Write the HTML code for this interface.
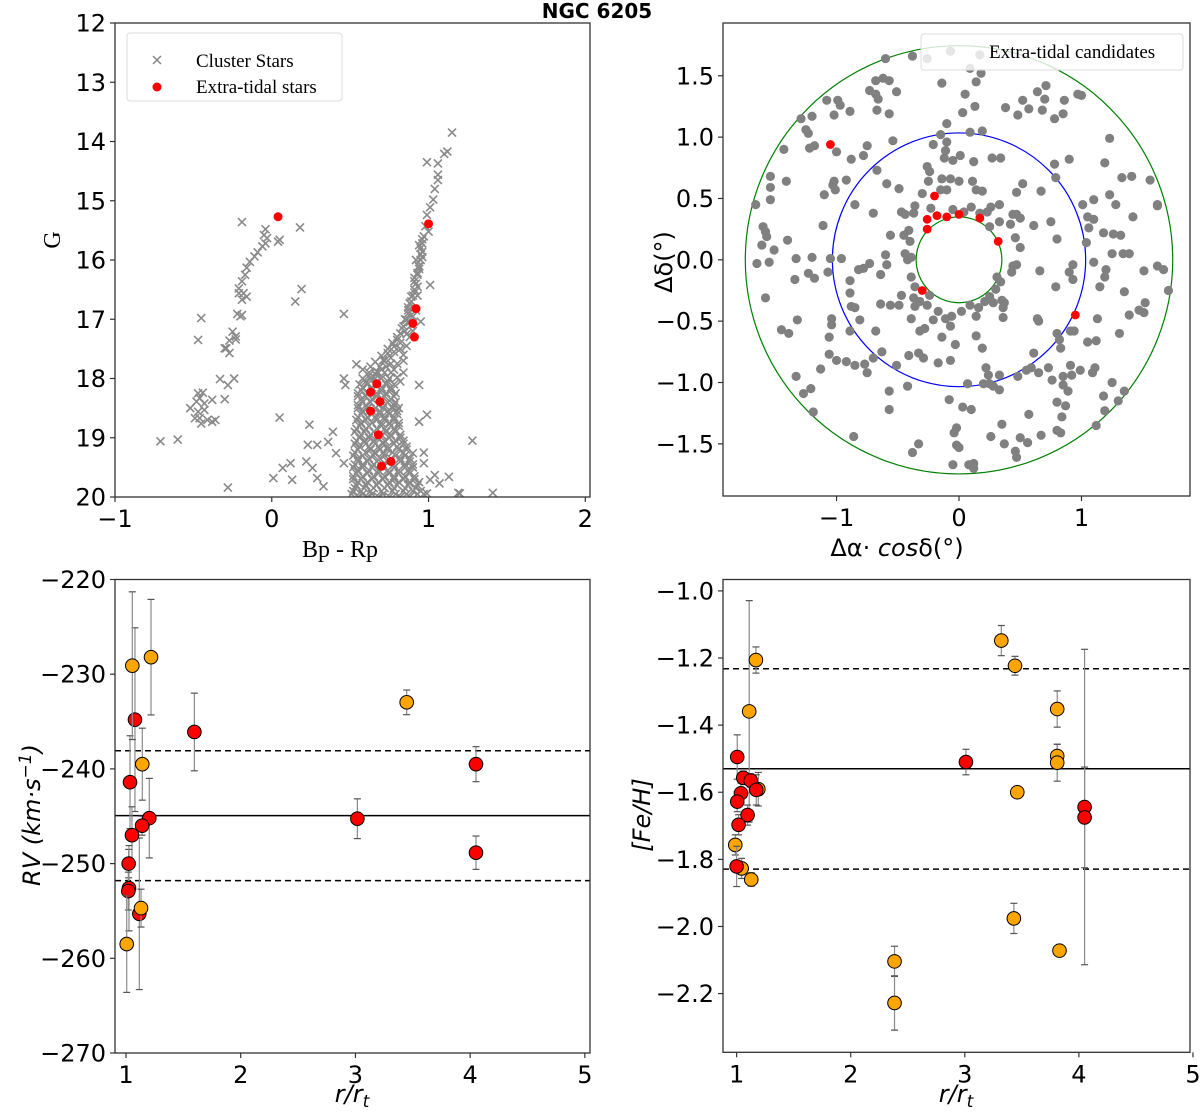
<!DOCTYPE html>
<html><head><meta charset="utf-8">
<style>
html,body{margin:0;padding:0;background:#fff;}
svg text{font-family:"DejaVu Sans","Liberation Sans",sans-serif;}
.serif{font-family:"Liberation Serif",serif !important;}
</style></head>
<body>
<svg id="fig" xmlns="http://www.w3.org/2000/svg" width="1200" height="1114" viewBox="0 0 1200 1114">
<rect width="1200" height="1114" fill="#fff"/>
<text x="597" y="18" font-size="20" font-weight="bold" text-anchor="middle">NGC 6205</text>
</svg>
<script>
// ---------- DATA ----------
const cmdXTicks = [-1, 0, 1, 2];
const cmdYTicks = [12, 13, 14, 15, 16, 17, 18, 19, 20];
const clusterStars = [
[-0.19,15.36],[-0.04,15.48],[-0.05,15.58],[-0.03,15.63],[-0.04,15.72],[-0.06,15.77],[-0.09,15.87],[-0.11,15.94],[-0.14,16.03],[-0.16,16.13],[-0.17,16.25],[-0.19,16.36],[-0.21,16.48],[-0.21,16.56],[-0.16,16.62],[-0.18,16.56],[-0.19,16.67],
[0.04,15.69],[0.05,15.66],[0.18,15.45],[0.19,16.49],[0.15,16.70],[-0.22,16.91],[-0.20,16.95],[-0.19,16.93],[-0.45,16.98],[-0.47,17.35],
[-0.25,17.21],[-0.23,17.29],[-0.23,17.34],[-0.27,17.36],[-0.29,17.49],[-0.27,17.57],[-0.30,17.49],[-0.33,18.01],[-0.24,18.00],[-0.28,18.11],[-0.30,18.35],
[-0.47,18.25],[-0.44,18.24],[-0.46,18.33],[-0.48,18.39],[-0.43,18.42],[-0.38,18.36],[-0.52,18.50],[-0.47,18.56],[-0.43,18.53],[-0.46,18.67],[-0.41,18.70],[-0.49,18.67],[-0.45,18.76],[-0.38,18.73],[-0.36,18.70],
[-0.71,19.06],[-0.60,19.03],[-0.28,19.84],[0.05,18.66],[0.24,18.78],[0.46,16.91],[0.54,17.76],
[0.01,19.68],[0.07,19.51],[0.12,19.43],[0.13,19.71],[0.23,19.12],[0.29,19.12],[0.22,19.40],[0.26,19.51],[0.29,19.68],[0.33,19.82],[0.36,19.07],[0.39,18.90],[0.41,19.26],[0.46,19.43],[0.46,18.00],[0.47,18.11],
[1.15,13.85],[1.12,14.17],[1.10,14.21],[1.06,14.37],[0.99,14.35],[1.06,14.56],[1.06,14.65],[1.04,14.80],[1.03,14.98],[1.01,15.11],[0.99,15.24],[0.98,15.43],[1.00,15.52],[0.96,15.72],[0.96,15.86],[0.95,16.00],[0.94,16.11],[0.93,16.22],[0.91,16.36],[1.01,16.42],[0.91,16.50],[0.89,16.62],[0.88,16.73],[0.95,17.04],[0.87,16.90],[0.86,17.01],[0.84,17.12],[0.82,17.24],[0.80,17.35],[0.78,17.46],[0.74,17.57],[0.71,17.69],[0.69,17.80],[0.67,17.88],[0.80,17.98],[0.94,18.11],[0.81,18.50],[0.94,18.73],[0.99,18.61],[1.28,19.05],[1.13,19.66],[1.19,19.93],[1.41,19.93],[1.04,19.63],[0.97,19.25],[0.90,19.26],[0.88,19.77],[0.97,19.43],[1.01,19.71],[1.07,19.77],[0.99,19.94],[1.20,19.94],
[0.80,17.75],[0.84,17.60],[0.76,17.65],[0.86,17.45],[0.82,17.50],[0.88,17.30],[0.85,17.20],[0.89,17.10],[0.90,16.95],[0.87,16.80],[0.92,16.85],[0.90,16.60],[0.93,16.45],[0.91,16.30],[0.94,16.15],[0.92,16.00],[0.95,15.90],[0.94,15.75],[0.97,15.60],[0.96,15.95],[0.93,16.60],[0.73,17.80],[0.70,17.85],[0.78,17.85],[0.66,17.92],
[0.62,17.9],[0.68,17.9],[0.72,17.9],[0.76,17.9],[0.58,18.0],[0.63,18.0],[0.70,18.0],[0.75,18.0],
[0.56,18.1],[0.61,18.1],[0.66,18.1],[0.73,18.1],[0.78,18.1],[0.57,18.2],[0.64,18.2],[0.70,18.2],[0.76,18.2],
[0.55,18.3],[0.60,18.3],[0.67,18.3],[0.72,18.3],[0.78,18.3],[0.58,18.4],[0.63,18.4],[0.74,18.4],[0.79,18.4],
[0.55,18.5],[0.61,18.5],[0.66,18.5],[0.71,18.5],[0.77,18.5],[0.57,18.6],[0.64,18.6],[0.69,18.6],[0.75,18.6],[0.80,18.6],
[0.54,18.7],[0.60,18.7],[0.67,18.7],[0.72,18.7],[0.78,18.7],[0.56,18.8],[0.62,18.8],[0.70,18.8],[0.76,18.8],[0.81,18.8],
[0.53,18.9],[0.59,18.9],[0.65,18.9],[0.73,18.9],[0.79,18.9],[0.56,19.0],[0.62,19.0],[0.68,19.0],[0.75,19.0],[0.82,19.0],
[0.53,19.1],[0.60,19.1],[0.66,19.1],[0.71,19.1],[0.78,19.1],[0.84,19.1],[0.55,19.2],[0.63,19.2],[0.69,19.2],[0.74,19.2],[0.81,19.2],[0.86,19.2],
[0.52,19.3],[0.58,19.3],[0.65,19.3],[0.72,19.3],[0.79,19.3],[0.85,19.3],[0.55,19.4],[0.61,19.4],[0.67,19.4],[0.74,19.4],[0.82,19.4],[0.88,19.4],
[0.52,19.5],[0.58,19.5],[0.64,19.5],[0.71,19.5],[0.78,19.5],[0.85,19.5],[0.90,19.5],[0.54,19.6],[0.61,19.6],[0.68,19.6],[0.75,19.6],[0.81,19.6],[0.88,19.6],
[0.52,19.7],[0.57,19.7],[0.64,19.7],[0.71,19.7],[0.78,19.7],[0.84,19.7],[0.91,19.7],[0.54,19.8],[0.60,19.8],[0.67,19.8],[0.74,19.8],[0.80,19.8],[0.87,19.8],[0.93,19.8],
[0.52,19.9],[0.57,19.9],[0.63,19.9],[0.70,19.9],[0.77,19.9],[0.84,19.9],[0.90,19.9],[0.95,19.9],[0.55,20.0],[0.61,20.0],[0.68,20.0],[0.75,20.0],[0.82,20.0],[0.88,20.0]
];
const clusterStarsCore = [
[0.60,18.05],[0.67,18.05],[0.74,18.05],[0.58,18.15],[0.64,18.15],[0.70,18.15],[0.76,18.15],
[0.55,18.25],[0.61,18.25],[0.67,18.25],[0.73,18.25],[0.79,18.25],[0.57,18.35],[0.64,18.35],[0.70,18.35],[0.76,18.35],
[0.55,18.45],[0.60,18.45],[0.68,18.45],[0.72,18.45],[0.78,18.45],[0.58,18.55],[0.64,18.55],[0.69,18.55],[0.74,18.55],[0.80,18.55],
[0.55,18.65],[0.61,18.65],[0.66,18.65],[0.72,18.65],[0.78,18.65],[0.57,18.75],[0.64,18.75],[0.70,18.75],[0.75,18.75],[0.81,18.75],
[0.54,18.85],[0.60,18.85],[0.67,18.85],[0.72,18.85],[0.78,18.85],[0.57,18.95],[0.63,18.95],[0.70,18.95],[0.76,18.95],[0.82,18.95],
[0.54,19.05],[0.59,19.05],[0.65,19.05],[0.72,19.05],[0.79,19.05],[0.84,19.05],[0.56,19.15],[0.62,19.15],[0.68,19.15],[0.74,19.15],[0.80,19.15],[0.86,19.15],
[0.53,19.25],[0.60,19.25],[0.66,19.25],[0.71,19.25],[0.77,19.25],[0.84,19.25],[0.55,19.35],[0.62,19.35],[0.69,19.35],[0.76,19.35],[0.82,19.35],[0.88,19.35],
[0.53,19.45],[0.58,19.45],[0.65,19.45],[0.71,19.45],[0.78,19.45],[0.85,19.45],[0.90,19.45],[0.55,19.55],[0.62,19.55],[0.68,19.55],[0.74,19.55],[0.81,19.55],[0.87,19.55],
[0.52,19.65],[0.58,19.65],[0.65,19.65],[0.72,19.65],[0.78,19.65],[0.85,19.65],[0.91,19.65],[0.55,19.75],[0.61,19.75],[0.68,19.75],[0.75,19.75],[0.81,19.75],[0.88,19.75],[0.94,19.75],
[0.53,19.85],[0.59,19.85],[0.65,19.85],[0.72,19.85],[0.78,19.85],[0.85,19.85],[0.92,19.85],[0.51,19.95],[0.58,19.95],[0.64,19.95],[0.71,19.95],[0.79,19.95],[0.86,19.95],[0.93,19.95],[0.97,19.95],
[0.58,17.85],[0.63,17.80],[0.66,17.72],[0.70,17.62],[0.74,17.50],[0.77,17.40],[0.80,17.30],[0.83,17.15],[0.85,17.00],[0.87,16.85],[0.89,16.70],[0.91,16.55],[0.92,16.40],[0.93,16.25],[0.94,16.10],[0.95,15.80],[0.96,15.65],
[0.78,17.55],[0.82,17.40],[0.86,17.25],[0.88,17.05],[0.72,17.70],[0.76,17.75],[0.84,17.70],[0.90,17.20],[0.62,17.95],[0.66,18.00],[0.82,18.05],[0.84,17.90]
];
const cmdExtraTidal = [[0.04,15.27],[1.00,15.39],[0.92,16.82],[0.90,17.07],[0.91,17.30],[0.67,18.09],[0.63,18.23],[0.69,18.39],[0.63,18.55],[0.68,18.95],[0.76,19.40],[0.70,19.48]];

const skyXTicks = [-1, 0, 1];
const skyYTicks = [-1.5, -1.0, -0.5, 0.0, 0.5, 1.0, 1.5];
const ringRadii = [0.35, 1.034, 1.745];
const ringColors = ['green', 'blue', 'green'];
const candidates = [
[-0.60,1.64],[-0.38,1.66],[-0.26,1.64],[-0.07,1.70],[0.17,1.67],[0.09,1.56],[0.18,1.52],[0.14,1.45],[-0.14,1.44],[-0.68,1.46],[-0.62,1.48],[-0.57,1.46],[-0.73,1.38],[-0.68,1.35],[-0.66,1.31],[-0.51,1.37],[-1.08,1.30],[-0.99,1.30],[-0.97,1.26],[-1.02,1.18],[-0.89,1.21],[-0.67,1.22],[-0.57,1.19],[-1.29,1.15],[-1.20,1.17],[-1.25,1.06],[-1.23,1.03],[-1.22,0.91],[-1.18,0.93],[-1.43,0.90],[-1.00,0.88],[-0.88,0.82],[-0.78,0.85],[-0.75,0.93],[-0.54,0.97],[-0.10,1.11],[0.05,1.35],[0.03,1.20],[0.13,1.25],[0.09,1.04],[0.19,1.05],[-0.15,1.02],[-0.10,0.96],[-0.21,0.94],[-0.11,0.89],[-0.12,0.83],[-0.05,0.81],[0.01,0.85],[0.12,0.80],[0.27,0.83],[0.34,0.83],[0.38,1.24],
[0.48,1.18],[0.52,1.30],[0.57,1.23],[0.64,1.37],[0.71,1.42],[0.70,1.31],[0.68,1.22],[0.78,1.15],[0.85,1.19],[0.86,1.30],[0.97,1.35],[1.00,1.34],[1.23,0.99],[0.78,0.78],[0.90,0.82],[1.19,0.79],[0.79,0.67],[1.33,0.67],[1.41,0.68],[1.56,0.65],[1.23,0.53],[1.28,0.45],[1.10,0.49],[1.01,0.45],[0.67,0.56],[0.52,0.62],[0.47,0.55],
[1.05,0.35],[1.10,0.33],[1.06,0.26],[1.04,0.14],[1.42,0.35],[1.62,0.44],[1.62,0.45],[1.18,0.22],[1.26,0.21],[1.32,0.20],[1.25,0.05],[1.34,0.05],[1.39,0.05],[1.10,-0.02],[0.75,0.31],[0.80,0.17],[0.61,0.28],[0.47,0.37],[0.50,0.34],[0.44,0.37],[0.42,0.29],[0.46,0.18],[0.50,0.10],
[0.33,0.45],[0.26,0.43],[0.23,0.39],[0.17,0.38],[0.10,0.43],[0.04,0.39],[-0.05,0.41],[0.25,0.27],[0.33,0.31],[0,0.64],[-0.07,0.66],[-0.14,0.66],[-0.10,0.57],[0.11,0.64],[0.14,0.57],[0.19,0.56],[-0.24,0.72],[-0.26,0.76],[-0.25,0.64],[-0.30,0.54],[-0.15,0.57],[-0.23,0.42],[-0.36,0.44],[-0.37,0.38],[-0.44,0.37],[-0.47,0.39],
[-0.45,0.20],[-0.41,0.24],[-0.40,0.15],[-0.44,0.05],[-0.39,0.02],[-0.42,0.0],[-0.56,0.20],[-0.70,0.38],[-0.85,0.45],[-0.59,0.62],[-0.49,0.58],[-0.67,0.73],[-0.92,0.65],[-1.02,0.64],[-1.03,0.61],[-1.01,0.57],[-1.10,0.53],[-1.41,0.64],[-1.54,0.68],[-1.54,0.59],[-1.54,0.49],[-1.66,0.45],[-1.60,0.27],[-1.58,0.23],[-1.57,0.19],[-1.61,0.12],[-1.51,0.08],[-1.40,0.16],[-1.11,0.28],
[-1.65,-0.03],[-1.55,-0.02],[-1.33,0.01],[-1.20,0.02],[-1.05,0.01],[-0.96,0.01],[-1.07,-0.10],[-1.23,-0.11],[-1.18,-0.15],[-1.34,-0.16],[-1.58,-0.31],[-1.32,-0.49],[-1.45,-0.57],[-1.39,-0.60],[-1.04,-0.48],[-1.04,-0.53],[-1.06,-0.63],[-0.89,-0.58],[-0.81,-0.49],
[-0.89,-0.27],[-0.88,-0.38],[-0.85,-0.39],[-0.89,-0.17],[-0.82,-0.08],[-0.78,-0.07],[-0.73,-0.03],[-0.60,0.04],[-0.59,-0.04],[-0.64,-0.12],[-0.64,-0.36],[-0.56,-0.37],[-0.49,-0.37],[-0.47,-0.29],[-0.68,-0.58],
[-0.39,-0.14],[-0.36,-0.22],[-0.37,-0.31],[-0.36,-0.38],[-0.32,-0.34],[-0.26,-0.37],[-0.24,-0.29],[-0.39,-0.48],[-0.32,-0.58],[-0.28,-0.56],[-0.21,-0.49],[-0.17,-0.42],[-0.11,-0.48],[-0.07,-0.54],[-0.06,-0.46],[0.02,-0.42],
[0.09,-0.37],[0.16,-0.39],[0.21,-0.34],[0.25,-0.30],[0.30,-0.24],[0.34,-0.18],[0.31,-0.14],[0.28,-0.35],[0.35,-0.33],[0.36,-0.39],[0.37,-0.35],[0.14,-0.46],[0.36,-0.47],[0.44,-0.05],[0.43,-0.10],[0.47,-0.04],[0.66,-0.09],[0.79,-0.22],[0.90,-0.10],[0.93,-0.16],[0.93,-0.04],[0.64,-0.48],[0.65,-0.50],
[0.91,-0.58],[0.94,-0.58],[0.80,-0.60],[0.82,-0.65],[1.13,-0.48],[1.15,-0.22],[1.19,-0.14],[1.20,-0.08],[1.35,-0.26],[1.31,-0.60],[1.39,-0.45],[1.47,-0.41],[1.52,-0.35],[1.51,-0.43],[1.71,-0.25],[1.51,-0.09],[1.62,-0.05],[1.67,-0.08],[1.05,-0.67],[1.12,-0.66],[0.83,-0.72],
[0.61,-0.76],[0.59,-0.88],[0.55,-0.90],[0.48,-0.95],[0.65,-0.92],[0.73,-0.88],[0.76,-0.98],[0.85,-0.95],[0.91,-0.86],[0.92,-0.94],[0.99,-0.90],[1.09,-0.92],[1.11,-0.88],
[0.85,-1.02],[0.89,-1.07],[0.80,-1.16],[0.87,-1.19],[0.84,-1.28],[0.80,-1.39],[0.83,-1.41],[0.67,-1.43],[1.25,-1.00],[1.18,-1.11],[1.35,-1.07],[1.30,-1.15],[1.19,-1.23],[1.12,-1.35],
[0.57,-1.26],[0.50,-1.45],[0.56,-1.49],[0.46,-1.56],[0.47,-1.61],[0.26,-1.44],[0.37,-1.50],[0.35,-1.34],[0.22,-0.88],[0.24,-0.94],[0.25,-1.01],[0.33,-0.94],[0.33,-1.06],[0.28,-1.03],[0.20,-1.01],
[0.07,-1.01],[0.03,-1.20],[0.10,-1.22],[0.14,-0.62],[0.19,-0.72],[-0.03,-0.69],[-0.14,-0.63],[-0.07,-0.82],[-0.17,-0.84],[-0.08,-1.14],
[-0.02,-1.37],[-0.04,-1.41],[-0.02,-1.51],[0,-1.53],[-0.05,-1.67],[0.08,-1.67],[0.12,-1.66],[0.12,-1.70],[-0.38,-1.57],[-0.33,-1.50],[-0.86,-1.44],[-0.57,-1.22],[-0.57,-1.07],[-0.42,-1.03],
[-0.41,-0.78],[-0.33,-0.76],[-0.29,-0.80],[-0.51,-0.86],[-0.63,-0.75],[-0.70,-0.80],[-0.77,-0.85],[-0.75,-0.92],[-0.85,-0.86],[-0.92,-0.83],[-1.00,-0.82],[-1.13,-0.89],[-1.06,-0.77],[-1.33,-0.95],[-1.27,-1.09],[-1.21,-1.05],[-1.19,-1.24]
];
const skyExtraTidal = [[-1.05,0.94],[-0.20,0.52],[-0.26,0.33],[-0.26,0.25],[-0.18,0.36],[-0.10,0.35],[0,0.37],[0.17,0.34],[0.32,0.15],[-0.30,-0.25],[0.95,-0.45]];

const rXTicks = [1, 2, 3, 4, 5];
const rvYTicks = [-220, -230, -240, -250, -260, -270];
const rvRedR = [1.078, 1.035, 1.203, 1.14, 1.052, 1.023, 1.026, 1.02, 1.116, 1.596, 3.017, 4.051, 4.051];
const rvRedV = [-234.8, -241.4, -245.2, -246.0, -247.0, -250.0, -252.6, -252.9, -255.3, -236.1, -245.26, -239.5, -248.85];
const rvRedErr = [9.7, 4.9, 4.2, 1, 3, 1.5, 4.5, 2, 8, 4.1, 2.1, 1.85, 1.76];
const rvOrangeR = [1.055, 1.218, 1.142, 1.131, 1.006, 3.447];
const rvOrangeV = [-229.1, -228.2, -239.5, -254.7, -258.5, -232.97];
const rvOrangeErr = [7.8, 6.1, 3.8, 2, 5.1, 1.3];
const rvMean = -244.94, rvLow = -251.8, rvHigh = -238.08;

const feYTicks = [-1.0, -1.2, -1.4, -1.6, -1.8, -2.0, -2.2];
const feRedR = [1.005, 1.058, 1.123, 1.172, 1.038, 1.005, 1.096, 1.017, 1.0, 3.01, 4.05, 4.05];
const feRedV = [-1.495, -1.557, -1.565, -1.593, -1.603, -1.628, -1.668, -1.697, -1.821, -1.510, -1.644, -1.675];
const feRedErr = [0.066, 0.02, 0.02, 0.045, 0.03, 0.03, 0.03, 0.03, 0.06, 0.038, 0.47, 0.15];
const feOrangeR = [1.169, 1.110, 1.19, 0.988, 1.044, 1.128, 3.32, 3.44, 3.81, 3.81, 3.81, 3.46, 3.43, 3.83, 2.384, 2.384];
const feOrangeV = [-1.206, -1.359, -1.591, -1.757, -1.827, -1.86, -1.148, -1.223, -1.352, -1.492, -1.512, -1.600, -1.976, -2.072, -2.104, -2.228];
const feOrangeErr = [0.039, 0.33, 0.05, 0.03, 0.03, 0.02, 0.045, 0.028, 0.054, 0.035, 0.055, 0.01, 0.045, 0, 0.045, 0.081];
const feMean = -1.530, feLow = -1.829, feHigh = -1.232;

// ---------- RENDER ----------
const NS = 'http://www.w3.org/2000/svg';
const svg = document.getElementById('fig');
function mk(tag, attrs, parent) {
  const e = document.createElementNS(NS, tag);
  for (const k in attrs) e.setAttribute(k, attrs[k]);
  (parent || svg).appendChild(e);
  return e;
}
function scale(d0, d1, p0, p1) { return v => p0 + (v - d0) * (p1 - p0) / (d1 - d0); }

function makeAxes(name, box, xd, yd, xticks, yticks, xfmt, yfmt) {
  const g = mk('g', {});
  
  
  const sx = scale(xd[0], xd[1], box.x0, box.x1);
  const sy = scale(yd[0], yd[1], box.y1, box.y0);
  const clipId = 'clip-' + name;
  const cp = mk('clipPath', { id: clipId }, g);
  mk('rect', { x: box.x0, y: box.y0, width: box.x1 - box.x0, height: box.y1 - box.y0 }, cp);
  const plot = mk('g', { 'clip-path': 'url(#' + clipId + ')' }, g);
  
  
  const xa = mk('g', {}, g);
  
  
  xticks.forEach(t => {
    const x = sx(t);
    mk('line', { x1: x, x2: x, y1: box.y1, y2: box.y1 + 5, stroke: '#333', 'stroke-width': 1.2 }, xa);
    const tx = mk('text', { x: x, y: box.y1 + 30, 'font-size': 24, 'text-anchor': 'middle' }, xa);
    
    
    tx.textContent = xfmt(t);
  });
  const ya = mk('g', {}, g);
  
  
  yticks.forEach(t => {
    const y = sy(t);
    mk('line', { x1: box.x0 - 5, x2: box.x0, y1: y, y2: y, stroke: '#333', 'stroke-width': 1.2 }, ya);
    const tx = mk('text', { x: box.x0 - 9, y: y + 8.5, 'font-size': 24, 'text-anchor': 'end' }, ya);
    
    
    tx.textContent = yfmt(t);
  });
  return { g, plot, sx, sy, box };
}
function frame(ax) {
  const b = ax.box;
  const r = mk('rect', { x: b.x0, y: b.y0, width: b.x1 - b.x0, height: b.y1 - b.y0, fill: 'none', stroke: '#333', 'stroke-width': 1.3 }, ax.g);
  
  
}
const minus = s => String(s).replace('-', '\u2212');
const intFmt = t => minus(t);
const f1 = t => minus(t.toFixed(1));

// Panel 1: CMD
const ax1 = makeAxes('cmd-panel', { x0: 115, x1: 590, y0: 23, y1: 497 }, [-1, 2.03], [20, 12], cmdXTicks, cmdYTicks, intFmt, intFmt);
clusterStars.concat(clusterStarsCore).forEach(p => {
  const x = ax1.sx(p[0]), y = ax1.sy(p[1]);
  const c = mk('path', { d: `M${x-4},${y-4}L${x+4},${y+4}M${x-4},${y+4}L${x+4},${y-4}`, stroke: '#8a8a8a', 'stroke-width': 1.6, fill: 'none' }, ax1.plot);
  
  
});
cmdExtraTidal.forEach(p => {
  const c = mk('circle', { cx: ax1.sx(p[0]), cy: ax1.sy(p[1]), r: 4.5, fill: 'red' }, ax1.plot);
  
  
});
frame(ax1);
{
  const lg = mk('g', {});
  
  
  mk('rect', { x: 127, y: 33, width: 215, height: 68, rx: 3, fill: '#fff', 'fill-opacity': 0.8, stroke: '#ddd' }, lg);
  mk('path', { d: 'M153,56L161,64M153,64L161,56', stroke: '#878787', 'stroke-width': 1.5 }, lg);
  mk('circle', { cx: 157, cy: 87, r: 4.5, fill: 'red' }, lg);
  const t1 = mk('text', { x: 196, y: 67, 'font-size': 19, class: 'serif' }, lg);
  
  
  t1.textContent = 'Cluster Stars';
  const t2 = mk('text', { x: 196, y: 93, 'font-size': 19, class: 'serif' }, lg);
  
  
  t2.textContent = 'Extra-tidal stars';
}
{
  const xl = mk('text', { x: 340, y: 557, 'font-size': 24, 'text-anchor': 'middle', class: 'serif' });
  
  
  xl.textContent = 'Bp - Rp';
  const yl = mk('text', { x: 0, y: 0, 'font-size': 24, 'text-anchor': 'middle', class: 'serif', transform: 'translate(60,240) rotate(-90)' });
  
  
  yl.textContent = 'G';
}

// Panel 2: sky
const ax2 = makeAxes('sky-panel', { x0: 723, x1: 1190, y0: 23, y1: 496 }, [-1.927, 1.886], [-1.925, 1.93], skyXTicks, skyYTicks, intFmt, f1);
ringRadii.forEach((r, i) => {
  const c = mk('ellipse', { cx: ax2.sx(0), cy: ax2.sy(0), rx: ax2.sx(r) - ax2.sx(0), ry: ax2.sy(0) - ax2.sy(r), fill: 'none', stroke: ringColors[i], 'stroke-width': 1.2 }, ax2.plot);
  
  
});
candidates.forEach(p => {
  const c = mk('circle', { cx: ax2.sx(p[0]), cy: ax2.sy(p[1]), r: 4.6, fill: '#808080' }, ax2.plot);
  
  
});
skyExtraTidal.forEach(p => {
  const c = mk('circle', { cx: ax2.sx(p[0]), cy: ax2.sy(p[1]), r: 4.4, fill: 'red' }, ax2.plot);
  
  
});
frame(ax2);
{
  const lg = mk('g', {});
  
  
  mk('rect', { x: 921, y: 34, width: 262, height: 36, rx: 3, fill: '#fff', 'fill-opacity': 0.8, stroke: '#ddd' }, lg);
  const t = mk('text', { x: 989, y: 58, 'font-size': 19, class: 'serif' }, lg);
  
  
  t.textContent = 'Extra-tidal candidates';
  const xl = mk('text', { x: 897, y: 556, 'font-size': 24, 'text-anchor': 'middle' });
  
  
  xl.innerHTML = 'Δα· <tspan font-style="italic">cos</tspan>δ(°)';
  const yl = mk('text', { x: 0, y: 0, 'font-size': 24, 'text-anchor': 'middle', transform: 'translate(672,262) rotate(-90)' });
  
  
  yl.textContent = 'Δδ(°)';
}

// Errorbar scatter helper
function errScatter(ax, rs, vs, es, color, name) {
  rs.forEach((r, i) => {
    const x = ax.sx(r), y = ax.sy(vs[i]);
    const yt = ax.sy(vs[i] + es[i]), yb = ax.sy(vs[i] - es[i]);
    const eg = mk('g', {}, ax.plot);
    
    
    mk('line', { x1: x, x2: x, y1: yt, y2: yb, stroke: '#8a8a8a', 'stroke-width': 1.2 }, eg);
    mk('line', { x1: x - 3.5, x2: x + 3.5, y1: yt, y2: yt, stroke: '#555', 'stroke-width': 1.2 }, eg);
    mk('line', { x1: x - 3.5, x2: x + 3.5, y1: yb, y2: yb, stroke: '#555', 'stroke-width': 1.2 }, eg);
  });
  rs.forEach((r, i) => {
    const c = mk('circle', { cx: ax.sx(r), cy: ax.sy(vs[i]), r: 6.8, fill: color, stroke: '#000', 'stroke-width': 1 }, ax.plot);
    
    
  });
}
function hlines(ax, mean, lo, hi) {
  [[mean, ''], [lo, '6,4'], [hi, '6,4']].forEach(([v, dash]) => {
    const l = mk('line', { x1: ax.box.x0, x2: ax.box.x1, y1: ax.sy(v), y2: ax.sy(v), stroke: '#000', 'stroke-width': 1.5, 'stroke-dasharray': dash }, ax.plot);
    
    
  });
}

// Panel 3: RV
const ax3 = makeAxes('rv-panel', { x0: 115, x1: 590, y0: 579.5, y1: 1053 }, [0.904, 5.045], [-270, -220], rXTicks, rvYTicks, intFmt, intFmt);
hlines(ax3, rvMean, rvLow, rvHigh);
errScatter(ax3, rvRedR, rvRedV, rvRedErr, 'red', 'rv-red');
errScatter(ax3, rvOrangeR, rvOrangeV, rvOrangeErr, 'orange', 'rv-orange');
frame(ax3);
{
  const xl = mk('text', { x: 352, y: 1102, 'font-size': 24, 'text-anchor': 'middle', 'font-style': 'italic' });
  
  
  xl.innerHTML = 'r/r<tspan font-size="17" dy="5">t</tspan>';
  const yl = mk('text', { x: 0, y: 0, 'font-size': 24, 'text-anchor': 'middle', 'font-style': 'italic', transform: 'translate(40,815) rotate(-90)' });
  
  
  yl.innerHTML = 'RV (km·s<tspan font-size="17" dy="-9">−1</tspan><tspan dy="9">)</tspan>';
}

// Panel 4: [Fe/H]
const ax4 = makeAxes('feh-panel', { x0: 723, x1: 1190, y0: 579.5, y1: 1052.3 }, [0.8804, 4.974], [-2.375, -0.966], rXTicks, feYTicks, intFmt, f1);
hlines(ax4, feMean, feLow, feHigh);
errScatter(ax4, feOrangeR, feOrangeV, feOrangeErr, 'orange', 'feh-orange');
errScatter(ax4, feRedR, feRedV, feRedErr, 'red', 'feh-red');
frame(ax4);
{
  const xl = mk('text', { x: 956, y: 1102, 'font-size': 24, 'text-anchor': 'middle', 'font-style': 'italic' });
  
  
  xl.innerHTML = 'r/r<tspan font-size="17" dy="5">t</tspan>';
  const yl = mk('text', { x: 0, y: 0, 'font-size': 24, 'text-anchor': 'middle', 'font-style': 'italic', transform: 'translate(650,815) rotate(-90)' });
  
  
  yl.textContent = '[Fe/H]';
}
</script>
</body></html>
